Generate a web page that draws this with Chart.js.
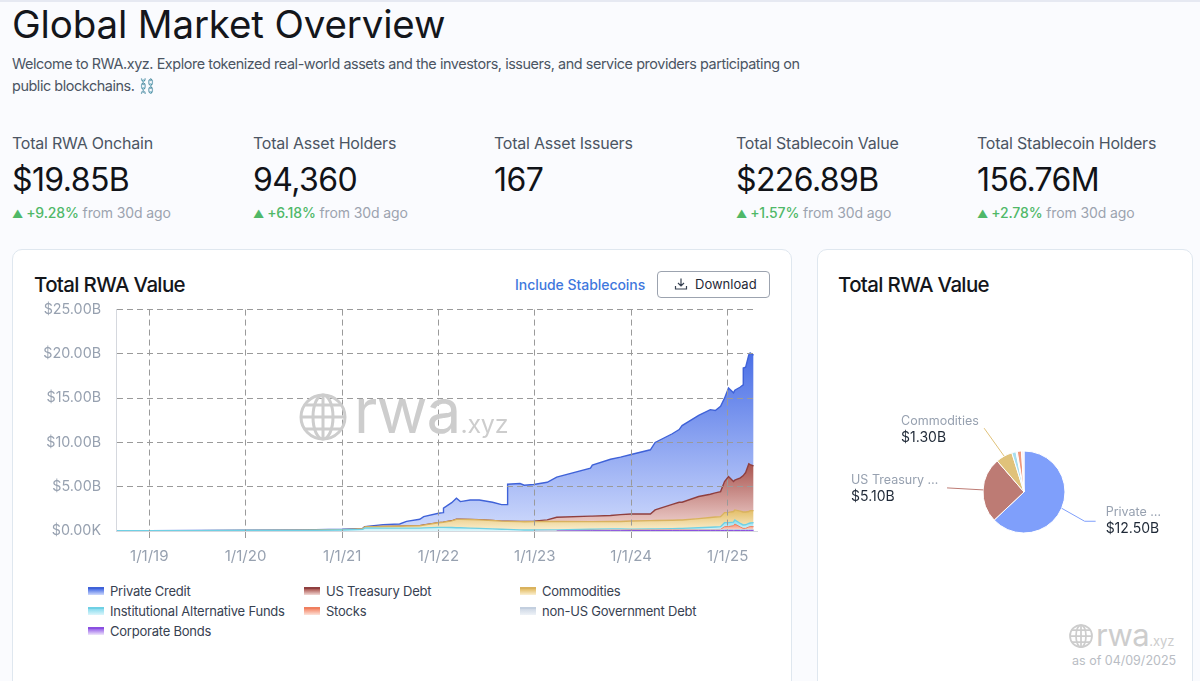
<!DOCTYPE html>
<html><head><meta charset="utf-8">
<script src="https://cdn.jsdelivr.net/npm/chart.js@4"></script>
<style>
html,body{margin:0;padding:0;width:1200px;height:681px;overflow:hidden;background:#fafbfe;font-family:Inter,'Noto Sans',sans-serif;color:#111827}
.a{position:absolute;white-space:nowrap}
.card{position:absolute;top:249px;height:460px;background:#fff;border:1px solid #dfe7ef;border-radius:10px;box-sizing:border-box}
.lbl{font-size:16px;color:#4b5563;line-height:20px;letter-spacing:-.22px}
.val{font-size:32px;color:#111318;line-height:40px;letter-spacing:-.6px}
.dlt{font-size:14px;line-height:18px;color:#9ca3af;letter-spacing:-.12px}
.dlt b{color:#4fb868;font-weight:500}
.dlt em{font-style:normal;font-size:11px;margin-right:3px}
.leg{position:absolute;left:88px;top:581px;display:grid;grid-template-columns:216px 216px 240px;grid-auto-rows:20px;font-size:13px;letter-spacing:-.22px;color:#374151}
.leg div{display:flex;align-items:center;white-space:nowrap}
.leg i{display:inline-block;width:16px;height:8px;margin-right:6px;box-sizing:border-box;border-top:2px solid}
</style></head><body>
<div class="a" style="left:0;top:0;width:1200px;height:2px;background:#e6e9f2"></div>
<div class="a" style="left:12px;top:1px;font-size:38.5px;line-height:46px;color:#14161b;letter-spacing:-.15px">Global Market Overview</div>
<div class="a" style="left:12px;top:53px;font-size:14.4px;line-height:22px;color:#4b5563;letter-spacing:-.43px">Welcome to RWA.xyz. Explore tokenized real-world assets and the investors, issuers, and service providers participating on<br>public blockchains. <span style="color:#80848c">⛓️</span></div>

<div id="stats"></div>

<div class="card" style="left:12px;width:780px"></div>
<div class="card" style="left:817px;width:376px"></div>
<div class="a" style="left:34px;top:272px;font-size:20.5px;line-height:26px;color:#14161b;font-weight:500;letter-spacing:-.65px">Total RWA Value</div>
<div class="a" style="left:838px;top:272px;font-size:20.5px;line-height:26px;color:#14161b;font-weight:500;letter-spacing:-.65px">Total RWA Value</div>
<div class="a" style="left:515px;top:276px;font-size:14px;line-height:18px;color:#3f78dd;font-weight:500;letter-spacing:-.05px">Include Stablecoins</div>
<div class="a" style="left:657px;top:271px;width:113px;height:27px;box-sizing:border-box;border:1px solid #9ca3af;border-radius:4px;background:#fff;font-size:13px;line-height:25px;color:#1f2937;padding-left:37px">Download
<svg style="position:absolute;left:16px;top:5px" width="14" height="14" viewBox="0 0 14 14" fill="none" stroke="#374151" stroke-width="1.2"><path d="M7 1.5v7M4 6l3 3 3-3M1.5 9v3h11V9"/></svg></div>

<canvas id="area" style="position:absolute;left:20px;top:286px;width:760px;height:284px"></canvas>
<canvas id="pie" style="position:absolute;left:820px;top:400px;width:370px;height:184px"></canvas>
<div class="leg" id="legend"></div>

<svg class="a" style="left:299px;top:393px" width="48" height="48" viewBox="0 0 48 48" fill="none" stroke="#cdcdcd" stroke-width="3"><circle cx="24" cy="24" r="22"/><ellipse cx="24" cy="24" rx="10" ry="22"/><path d="M24 2v44M2 24h44M6 12h36M6 36h36"/></svg>
<div class="a" style="left:354px;top:376px;font-size:62px;line-height:70px;color:#cdcdcd;letter-spacing:-1px">rwa<span style="font-size:25px;letter-spacing:-.2px">.xyz</span></div>
<svg class="a" style="left:1069px;top:624px" width="24" height="24" viewBox="0 0 48 48" fill="none" stroke="#cdcdcd" stroke-width="3.5"><circle cx="24" cy="24" r="22"/><ellipse cx="24" cy="24" rx="10" ry="22"/><path d="M24 2v44M2 24h44M6 12h36M6 36h36"/></svg>
<div class="a" style="left:1096px;top:617px;font-size:31px;line-height:36px;color:#cdcdcd;letter-spacing:-.5px">rwa<span style="font-size:13px;letter-spacing:0">.xyz</span></div>
<div class="a" style="left:1072px;top:653px;font-size:12.5px;line-height:16px;color:#b9bdc4">as of 04/09/2025</div>

<script>
const statLabels = ['Total RWA Onchain','Total Asset Holders','Total Asset Issuers','Total Stablecoin Value','Total Stablecoin Holders'];
const statValues = ['$19.85B','94,360','167','$226.89B','156.76M'];
const statDeltas = ['+9.28%','+6.18%',null,'+1.57%','+2.78%'];

const dates = ['2018-09-01','2019-01-01','2019-07-01','2020-01-01','2020-08-01','2021-01-01','2021-03-20','2021-03-28','2021-06-05','2021-08-07','2021-09-02','2021-10-22','2021-11-06','2022-01-01','2022-01-19','2022-01-20','2022-02-20','2022-03-10','2022-03-25','2022-05-01','2022-06-05','2022-07-25','2022-08-28','2022-09-19','2022-09-20','2022-11-06','2022-11-22','2022-12-28','2023-02-17','2023-03-25','2023-07-31','2023-08-07','2023-10-15','2023-11-22','2024-01-01','2024-03-14','2024-04-01','2024-06-05','2024-07-01','2024-07-12','2024-09-13','2024-10-27','2024-11-15','2024-12-05','2024-12-20','2025-01-04','2025-01-23','2025-01-28','2025-02-18','2025-02-28','2025-03-01','2025-03-10','2025-03-22','2025-03-27','2025-04-09'];
const corporateBonds = [0,0,0,0,0,0,0,0,0,0,0,0,0,0,0,0,0,0,0,0,0,0,0,0,0,0,0,0,0,0,.03,.03,.04,.04,.05,.05,.05,.05,.05,.05,.05,.05,.05,.05,.06,.06,.06,.06,.06,.06,.06,.06,.06,.06,.06];
const nonUsGovDebt = [0,0,0,0,0,0,0,0,0,0,0,0,0,0,0,0,0,0,0,0,0,0,0,0,0,0,0,0,.03,.03,.04,.04,.05,.05,.05,.05,.05,.06,.07,.07,.08,.08,.08,.08,.1,.1,.1,.1,.1,.1,.1,.1,.1,.1,.1];
const stocks = [0,0,0,0,0,0,0,0,0,0,0,0,0,0,0,0,0,0,0,0,0,0,0,0,0,0,0,0,0,0,.01,.01,.01,.01,.02,.02,.02,.03,.03,.03,.03,.03,.04,.05,.33,.34,.44,.63,.29,.14,.14,.14,.29,.34,.33];
const instAltFunds = [.02,.03,.04,.05,.06,.12,.18,.35,.33,.32,.32,.32,.35,.41,.41,.41,.39,.37,.36,.33,.3,.24,.2,.18,.18,.13,.12,.11,.09,.1,.12,.12,.14,.14,.08,.1,.1,.13,.15,.15,.2,.26,.28,.31,.45,.45,.4,.46,.4,.38,.38,.4,.4,.4,.45];
const commodities = [0,0,0,.01,.02,.04,.08,.12,.17,.22,.24,.27,.32,.52,.58,.58,.75,.94,.95,.96,.96,.95,.91,.91,.91,.93,.93,.95,.95,.95,.86,.86,.84,.84,.93,.95,.96,.95,.95,.95,1.04,1.1,1.13,1.13,1.14,1.15,1.2,1.13,1.4,1.47,1.47,1.45,1.35,1.4,1.36];
const usTreasuryDebt = [0,0,0,0,0,0,0,.01,.01,.01,.01,.01,.01,.01,.01,.01,.01,.01,.01,.01,.01,.01,.01,.01,.01,.01,.02,.05,.18,.47,.62,.62,.67,.77,.79,.75,1.2,1.78,2,2,2.49,2.63,2.72,2.83,3.5,4.05,3.38,3.37,3.75,4.08,4.08,4.45,5.38,5.2,5.06];
const privateCredit = [.01,.01,.01,.03,.03,.03,.04,.02,.21,.24,.52,.72,.94,1.06,1.08,1.57,2.05,2.38,2,2.2,2.23,2.05,1.86,1.88,4.18,4.29,4.1,4.14,4.25,4.53,5.41,5.75,6.35,6.49,6.72,7.25,7.62,7.98,8.2,8.65,9.17,9.55,9.3,9.63,9.42,10,10.02,10.15,10.26,10.27,12.17,11.9,12.32,12.6,12.49];

const xTickDates = ['2019-01-01','2020-01-01','2021-01-01','2022-01-01','2023-01-01','2024-01-01','2025-01-01'];
const xTickLabels = ['1/1/19','1/1/20','1/1/21','1/1/22','1/1/23','1/1/24','1/1/25'];
const yTickLabels = ['$0.00K','$5.00B','$10.00B','$15.00B','$20.00B','$25.00B'];

const seriesNames = ['Corporate Bonds','non-US Government Debt','Stocks','Institutional Alternative Funds','Commodities','US Treasury Debt','Private Credit'];
const seriesData = [corporateBonds,nonUsGovDebt,stocks,instAltFunds,commodities,usTreasuryDebt,privateCredit];
const lineColors = ['#8a4fe0','#c3cfdf','#ef7f5f','#6fd0e4','#d9b25e','#8f3f3f','#3f62d8'];
const topColors = ['#9a66ea','#d0d9e6','#f58a6c','#8bdcee','#e3bd66','#a9544f','#4a6fe6'];
const lowColors = ['#efe6fb','#eef2f7','#fde3da','#dcf6fb','#fbf0d2','#f3d9d6','#cfdafc'];
const legendOrder = [6,5,4,3,2,1,0];

const pieNames = ['Private Credit','US Treasury Debt','Commodities','Institutional Alternative Funds','non-US Government Debt','Stocks','Corporate Bonds'];
const pieValues = [12.5,5.1,1.3,.33,.1,.33,.19];
const pieColors = ['#7f9ffb','#bd7b74','#e0c27a','#a8deee','#e8edf4','#f0987c','#f4f0fb'];
const pieLabels = [['Private …','$12.50B'],['US Treasury …','$5.10B'],['Commodities','$1.30B']];

const xs = dates.map(d => Date.parse(d));
const statX = [12,253,494,736,977];
document.getElementById('stats').innerHTML = statLabels.map((l,i) =>
 `<div class="a lbl" style="left:${statX[i]}px;top:133px">${l}</div>`+
 `<div class="a val" style="left:${statX[i]}px;top:160px">${statValues[i]}</div>`+
 (statDeltas[i]?`<div class="a dlt" style="left:${statX[i]}px;top:204px"><b><em>▲</em>${statDeltas[i]}</b> from 30d ago</div>`:'')).join('');

document.getElementById('legend').innerHTML = legendOrder.map(i =>
 `<div><i style="border-color:${lineColors[i]};background:linear-gradient(${topColors[i]},${lowColors[i]})"></i>${seriesNames[i]}</div>`).join('');

function cumMax(idx){let m=0;for(let k=0;k<xs.length;k++){let s=0;for(let j=0;j<=idx;j++)s+=seriesData[j][k];if(s>m)m=s;}return m;}
const GRID='#9a9a9a';
new Chart(document.getElementById('area'),{
 type:'line',
 data:{datasets:seriesNames.map((n,i)=>({
  label:n,
  data:xs.map((x,k)=>({x,y:seriesData[i][k]})),
  borderColor:lineColors[i],
  borderWidth:i>=3?1.4:1,
  pointRadius:0,
  tension:0,
  segment:{borderColor:c=>(c.p0.parsed.y===0&&c.p1.parsed.y===0)?'rgba(0,0,0,0)':undefined},
  fill:i===0?'origin':'-1',
  backgroundColor(ctx){
    const c=ctx.chart;
    if(!c.chartArea||!c.scales.y) return topColors[i];
    const g=c.ctx.createLinearGradient(0,c.scales.y.getPixelForValue(cumMax(i)),0,c.scales.y.getPixelForValue(0));
    g.addColorStop(0,topColors[i]);g.addColorStop(1,lowColors[i]);
    return g;
  }
 }))},
 options:{
  responsive:false,animation:false,devicePixelRatio:1,
  layout:{padding:{top:10,right:23,left:0,bottom:0}},
  plugins:{legend:{display:false},tooltip:{enabled:false}},
  scales:{
   x:{type:'linear',min:Date.parse('2018-08-28'),max:Date.parse('2025-04-22'),
    afterBuildTicks(s){s.ticks=xTickDates.map(d=>({value:Date.parse(d)}));},
    afterFit(s){s.height=39;},
    grid:{color:GRID,lineWidth:1,tickBorderDash:[6,4],tickColor:GRID,tickLength:9,z:1},
    border:{display:true,color:'#d5d8de',dash:[6,4],z:1},
    ticks:{autoSkip:false,maxRotation:0,color:'#97a1b0',font:{family:'Inter',size:15},padding:7,callback:(v,i)=>xTickLabels[i]}
   },
   y:{stacked:true,min:0,max:25,
    afterFit(s){s.width=96;},
    grid:{color:c=>c.tick&&c.tick.value===0?'rgba(0,0,0,0)':GRID,lineWidth:1,drawTicks:false,tickLength:0,z:1},
    border:{display:true,color:'#d5d8de',dash:[6,4],z:1},
    ticks:{stepSize:5,color:'#97a1b0',padding:15,font:{family:'Inter',size:14.3},callback:v=>yTickLabels[v/5]}
   }
  }
 }
});

const leaderPlugin={id:'leaders',afterDraw(c){
  const x=c.ctx,arcs=c.getDatasetMeta(0).data;
  const ends=[[23,13,34,13,44,4,44,21],[-36,-2,-36,-2,-132,-10,-132,7],[-20,-28,-20,-28,-103,-35,-103,-18]];
  pieLabels.forEach((lab,i)=>{
    const a=arcs[i],mid=(a.startAngle+a.endAngle)/2;
    const sx=a.x+Math.cos(mid)*a.outerRadius,sy=a.y+Math.sin(mid)*a.outerRadius;
    const e=ends[i];
    x.save();x.strokeStyle=pieColors[i];x.lineWidth=1;x.beginPath();x.moveTo(sx,sy);x.lineTo(sx+e[0],sy+e[1]);x.lineTo(sx+e[2],sy+e[3]);x.stroke();
    x.textAlign='left';x.textBaseline='middle';
    x.font='12.5px Inter';x.fillStyle='#97a1b0';x.fillText(lab[0],sx+e[4],sy+e[5]);
    x.font='14px Inter';x.fillStyle='#1f2937';x.fillText(lab[1],sx+e[6],sy+e[7]);
    x.restore();
  });
}};
new Chart(document.getElementById('pie'),{
 type:'pie',
 data:{labels:pieNames,datasets:[{data:pieValues,backgroundColor:pieColors,borderColor:'#fff',borderWidth:1}]},
 options:{responsive:false,animation:false,devicePixelRatio:1,radius:41,layout:{padding:{left:38}},plugins:{legend:{display:false},tooltip:{enabled:false}}},
 plugins:[leaderPlugin]
});
</script>
</body></html>
